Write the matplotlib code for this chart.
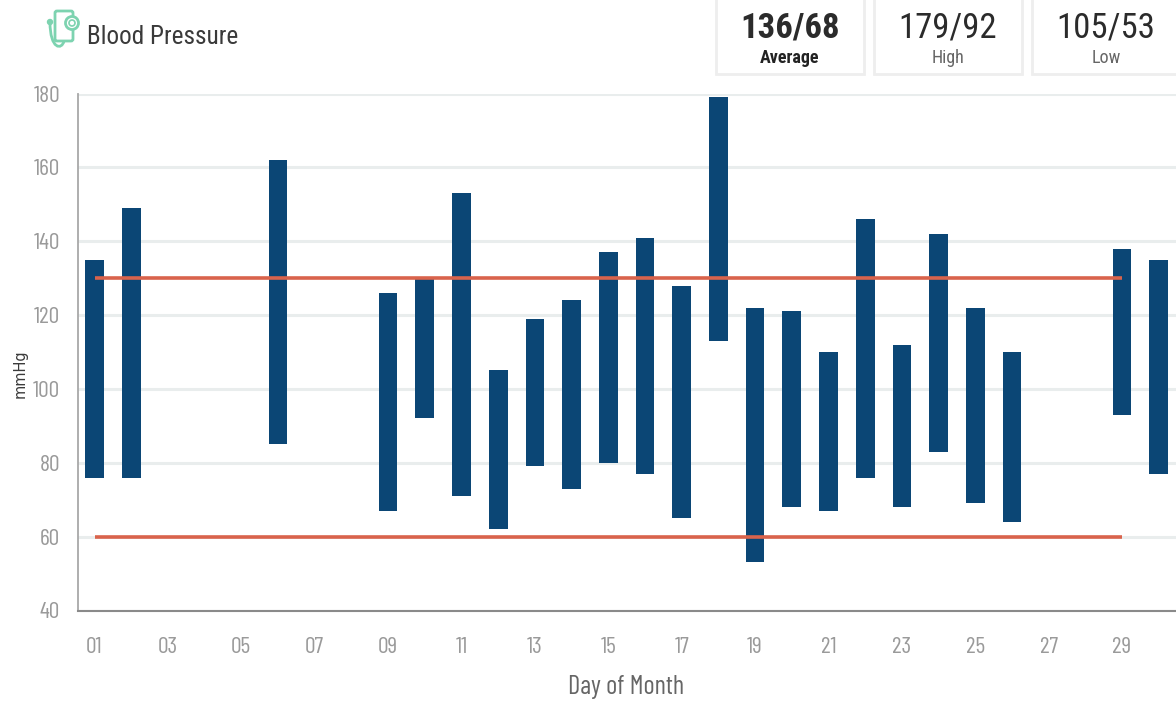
import matplotlib
matplotlib.use("Agg")
import matplotlib.pyplot as plt
import matplotlib.font_manager as fm
from matplotlib.patches import Rectangle, FancyBboxPatch, Circle, PathPatch
from matplotlib.path import Path

# the reference text is squeezed, so look for condensed families first
names = {f.name for f in fm.fontManager.ttflist}
def pick(*fams):
    for f in fams:
        if f in names:
            return f
    return "Roboto"
tight = pick("Barlow Condensed", "Archivo Narrow")
semi = pick("Roboto Condensed", "Archivo Narrow")

days = [1, 2, 6, 9, 10, 11, 12, 13, 14, 15, 16, 17, 18, 19, 20, 21, 22, 23, 24, 25, 26, 29, 30]
systolic = [135, 149, 162, 126, 130, 153, 105, 119, 124, 137, 141, 128, 179, 122, 121, 110, 146, 112, 142, 122, 110, 138, 135]
diastolic = [76, 76, 85, 67, 92, 71, 62, 79, 73, 80, 77, 65, 113, 53, 68, 67, 76, 68, 83, 69, 64, 93, 77]
limit_days = [1, 29]
limit_high = [130, 130]
limit_low = [60, 60]
y_ticks = [40, 60, 80, 100, 120, 140, 160, 180]
x_ticks = list(range(1, 30, 2))
x_labels = ["%02d" % d for d in x_ticks]
card_big = ["136/68", "179/92", "105/53"]
card_small = ["Average", "High", "Low"]

W, H = 1176, 704
fig = plt.figure(figsize=(W / 100, H / 100), dpi=100)
ax = fig.add_axes([78 / W, 1 - 610.5 / H, (W - 78) / W, (610.5 - 93.5) / H])

heights = [s - d for s, d in zip(systolic, diastolic)]
ax.bar(days, heights, bottom=diastolic, width=0.51, color="#0b4675", zorder=2)
ax.plot(limit_days, limit_high, color="#d9634c", lw=2.6, zorder=3, solid_capstyle="butt")
ax.plot(limit_days, limit_low, color="#d9634c", lw=2.6, zorder=3, solid_capstyle="butt")

ax.set_xlim(0.55, 30.47)
ax.set_ylim(40, 180)
ax.set_yticks(y_ticks)
ax.set_xticks(x_ticks)
ax.set_xticklabels(x_labels)
ax.grid(axis="y", color="#e9eded", lw=2.2, zorder=0)
ax.tick_params(length=0, labelsize=17, labelcolor="#9a9a9a", labelfontfamily=tight)
ax.tick_params(axis="x", pad=19)
ax.tick_params(axis="y", pad=13)
ax.spines["top"].set_visible(False)
ax.spines["right"].set_visible(False)
ax.spines["left"].set_color("#a8a8a8")
ax.spines["bottom"].set_color("#8a8a8a")
ax.spines["left"].set_linewidth(1.3)
ax.spines["bottom"].set_linewidth(1.5)

# overlay in pixel coords for header, cards, axis titles
ov = fig.add_axes([0, 0, 1, 1], facecolor="none")
ov.set_xlim(0, W)
ov.set_ylim(H, 0)
ov.axis("off")

ov.text(626, 687, "Day of Month", fontsize=19, color="#666666", family=tight, ha="center", va="center")
ov.text(20, 374, "mmHg", fontsize=10.5, color="#3a3a3a", family="DejaVu Sans", rotation=90, ha="center", va="center")
ov.text(87, 37, "Blood Pressure", fontsize=18.2, color="#3a3a3a", family=semi, ha="left", va="center")

# cards
card_x = [716, 874, 1032]
for i in range(3):
    ov.add_patch(Rectangle((card_x[i], -3), 148, 77, fc="white", ec="#eeeeee", lw=2))
    cx = card_x[i] + 74
    if i == 2:
        cx = 1106
    bold = "bold" if i == 0 else "normal"
    ov.text(cx, 28, card_big[i], fontsize=25, color="#2b2b2b", family=semi, weight=bold, ha="center", va="center")
    ov.text(cx, 58, card_small[i], fontsize=13, color="#222222" if i == 0 else "#666666", family=semi, weight=bold, ha="center", va="center")

# stethoscope icon
green = "#7dd3b0"
ov.add_patch(FancyBboxPatch((55, 11), 18, 30, boxstyle="round,pad=0,rounding_size=2", fc="none", ec=green, lw=2))
ov.add_patch(Circle((72, 23), 6.5, fc="white", ec=green, lw=2))
ov.add_patch(Circle((72, 23), 3, fc="none", ec=green, lw=1.2))
ov.add_patch(Circle((50, 22), 2.5, fc=green, ec=green))
tube = Path([(50, 22), (50, 50), (62, 50), (64, 41)], [Path.MOVETO, Path.CURVE4, Path.CURVE4, Path.CURVE4])
ov.add_patch(PathPatch(tube, fc="none", ec=green, lw=2))

fig.savefig("out.png", dpi=100)
